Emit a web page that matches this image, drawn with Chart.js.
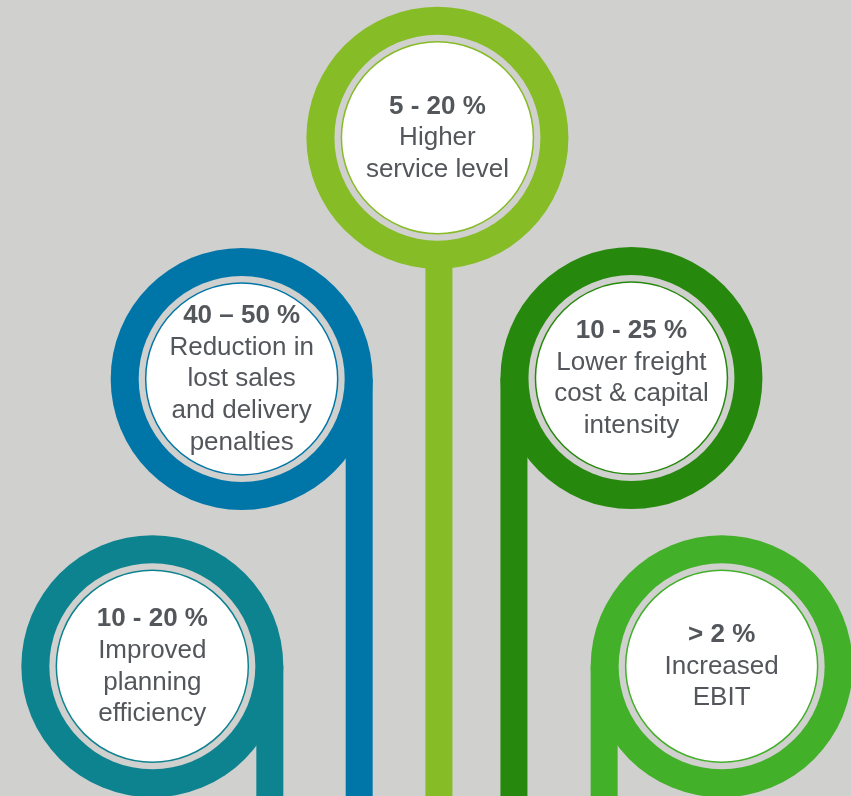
<!DOCTYPE html>
<html>
<head>
<meta charset="utf-8">
<script src="https://cdn.jsdelivr.net/npm/chart.js@4.4.1/dist/chart.umd.min.js"></script>
<style>
  html, body { margin: 0; padding: 0; background: #d0d0ce; }
  .wrap { position: relative; width: 851px; height: 796px; }
</style>
</head>
<body>
<div class="wrap"><canvas id="chart-benefits"></canvas></div>
<script>
// benefit bubbles, left to right
const headlines = ["10 - 20 %", "40 \u2013 50 %", "5 - 20 %", "10 - 25 %", "> 2 %"];
const benefits = [
  ["Improved", "planning", "efficiency"],
  ["Reduction in", "lost sales", "and delivery", "penalties"],
  ["Higher", "service level"],
  ["Lower freight", "cost & capital", "intensity"],
  ["Increased", "EBIT"],
];
const column = [17.9, 28.4, 51.4, 74.2, 84.8];
const height = [16.3, 52.4, 82.7, 52.5, 16.3];

const palette = ["#0d8390", "#0076a8", "#86bc25", "#26890d", "#43b02a"];
const stemSide = [1, 1, 0, -1, -1]; // which edge the stem hangs from

const RING = 131;
const GAP = 103;
const FACE = 96;
const STEM = 27;
const TEXT = "#53565a";
const FONT = "Arial, 'Liberation Sans', sans-serif";

const points = column.map((x, i) => ({ x, y: height[i] }));

function disk(label, radius, fill, border, borderWidth, order) {
  return {
    label,
    data: points,
    order,
    clip: false,
    pointRadius: radius,
    pointHoverRadius: radius,
    pointBackgroundColor: fill,
    pointBorderColor: border,
    pointBorderWidth: borderWidth,
    pointHoverBorderWidth: borderWidth,
  };
}

// stems go under the rings, from each center down to the floor
const stemsPlugin = {
  id: "stems",
  beforeDatasetsDraw(chart) {
    const { ctx } = chart;
    const meta = chart.getDatasetMeta(2);
    ctx.save();
    meta.data.forEach((pt, i) => {
      const cx = pt.x + stemSide[i] * (RING - STEM / 2) + (stemSide[i] === 0 ? 1.5 : 0);
      ctx.fillStyle = palette[i];
      ctx.fillRect(cx - STEM / 2, pt.y, STEM, chart.height - pt.y + 2);
    });
    ctx.restore();
  },
};

const labelsPlugin = {
  id: "bubbleLabels",
  afterDatasetsDraw(chart) {
    const { ctx } = chart;
    const meta = chart.getDatasetMeta(0);
    const lineH = 31.7;
    ctx.save();
    ctx.fillStyle = TEXT;
    ctx.textAlign = "center";
    ctx.textBaseline = "alphabetic";
    meta.data.forEach((pt, i) => {
      const lines = [headlines[i], ...benefits[i]];
      const mid = (lines.length - 1) / 2;
      lines.forEach((txt, j) => {
        ctx.font = (j === 0 ? "bold " : "") + "26px " + FONT;
        ctx.fillText(txt, pt.x, pt.y + 7.5 + (j - mid) * lineH);
      });
    });
    ctx.restore();
  },
};

new Chart(document.getElementById("chart-benefits"), {
  type: "scatter",
  data: {
    datasets: [
      disk("face", FACE, "#ffffff", palette, 1.5, 0),
      disk("gap", GAP, "#d0d0ce", "#d0d0ce", 0, 1),
      disk("ring", RING, palette, palette, 0, 2),
    ],
  },
  options: {
    responsive: true,
    maintainAspectRatio: false,
    animation: false,
    events: [],
    layout: { padding: 0, autoPadding: false },
    plugins: { legend: { display: false }, tooltip: { enabled: false } },
    scales: {
      x: { type: "linear", min: 0, max: 100, display: false },
      y: { type: "linear", min: 0, max: 100, display: false },
    },
  },
  plugins: [stemsPlugin, labelsPlugin],
});
</script>
</body>
</html>
